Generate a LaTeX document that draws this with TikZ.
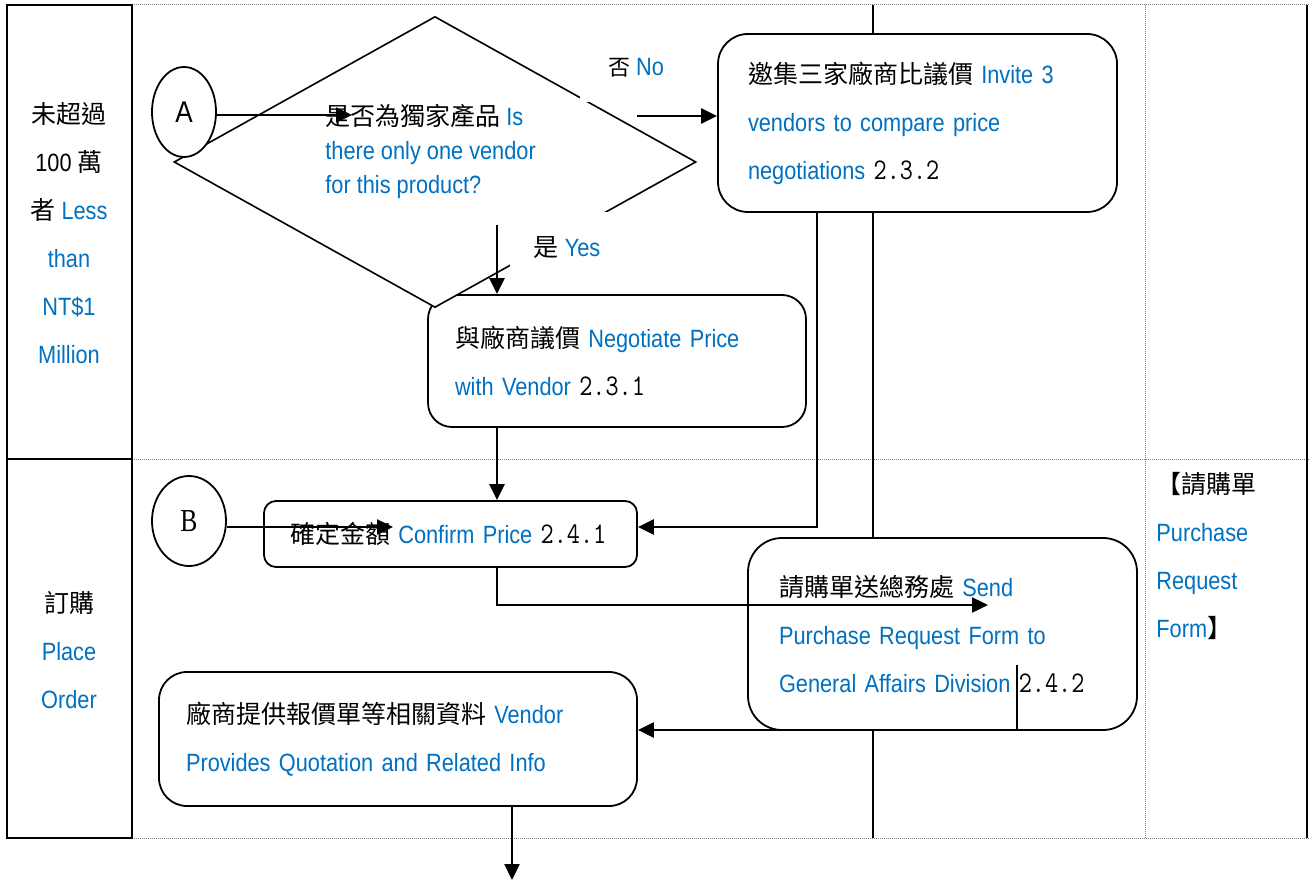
\documentclass[tikz,border=0pt]{standalone}
\usepackage{fontspec}
\setmainfont{Liberation Sans}[FakeStretch=0.87]
\newfontfamily\cjkfont{Noto Sans CJK TC}
\newfontfamily\serifB{Liberation Serif}[FakeStretch=0.8]
\newfontfamily\numfont{Latin Modern Mono}[FakeStretch=0.85]
\usetikzlibrary{shapes.geometric,arrows.meta}
\definecolor{engblue}{HTML}{0070C0}
\newcommand{\zhtxt}[1]{{\cjkfont #1}}
\newcommand{\entxt}[1]{{\color{engblue}#1}}
\newcommand{\numtxt}[1]{{\numfont\fontsize{15}{24}\selectfont #1}}
\tikzset{
  lane/.style={line width=1.2pt},
  laneDot/.style={gray, line width=0.5pt, dash pattern=on 0.5pt off 0.5pt},
  procbox/.style={draw, line width=0.9pt, fill=white, rounded corners=14pt, align=left, inner ysep=0pt, font=\fontsize{12.5}{24}\selectfont},
  flow/.style={line width=1.2pt, -{Triangle[length=8pt,width=7.5pt]}},
  connector/.style={draw, line width=0.9pt, fill=white, ellipse, inner sep=0pt},
  lbl/.style={fill=white, inner sep=0pt, font=\fontsize{12.5}{15}\selectfont},
}
\begin{document}
\begin{tikzpicture}[x=0.5pt, y=-0.5pt]
  \useasboundingbox (0,0) rectangle (1309,881);
  % swimlanes
  \draw[laneDot] (132,5) -- (1309,5);
  \draw[laneDot] (132,459) -- (1309,459);
  \draw[laneDot] (132,838) -- (1309,838);
  \draw[laneDot] (1145,5) -- (1145,838);
  \draw[line width=0.7pt] (873,5) -- (873,838);
  \draw[lane] (7,5) rectangle (132,838);
  \draw[lane] (7,459) -- (132,459);
  \draw[lane] (1307,5) -- (1307,838);
  \node[align=center, font=\fontsize{12.5}{24}\selectfont] (lane1) at (69,233)
    {\zhtxt{未超過}\\100 \zhtxt{萬}\\\zhtxt{者} \entxt{Less}\\\entxt{than}\\\entxt{NT\$1}\\\entxt{Million}};
  \node[align=center, font=\fontsize{12.5}{24}\selectfont] (lane2) at (69,650)
    {\zhtxt{訂購}\\\entxt{Place}\\\entxt{Order}};
  \node[anchor=west, align=left, inner sep=0pt, font=\fontsize{12.5}{24}\selectfont] (formlbl) at (1156,556)
    {\zhtxt{【請購單}\\\entxt{Purchase}\\\entxt{Request}\\\entxt{Form}\zhtxt{】}};

  % process boxes
  \node[procbox, text width=162pt, inner xsep=13.5pt, minimum height=66pt, rounded corners=12pt] (neg) at (617,361)
    {\zhtxt{與廠商議價} \entxt{Negotiate Price}\\\entxt{with Vendor} \numtxt{2.3.1}};
  \node[procbox, text width=169.5pt, inner xsep=15pt, minimum height=89pt, rounded corners=15pt] (inv) at (917.5,123)
    {\zhtxt{邀集三家廠商比議價} \entxt{Invite 3}\\\entxt{vendors to compare price}\\\entxt{negotiations} \numtxt{2.3.2}};
  \node[procbox, text width=160.5pt, inner xsep=13pt, minimum height=33pt, rounded corners=6pt] (conf) at (450.5,534)
    {\zhtxt{確定金額} \entxt{Confirm Price} \numtxt{2.4.1}};
  \node[procbox, text width=163.5pt, inner xsep=15.5pt, minimum height=96pt, rounded corners=17pt] (send) at (942.5,634)
    {\zhtxt{請購單送總務處} \entxt{Send}\\\entxt{Purchase Request Form to}\\\entxt{General Affairs Division} \numtxt{2.4.2}};
  \node[procbox, text width=212pt, inner xsep=13.5pt, minimum height=67pt, rounded corners=14pt] (vend) at (398,739)
    {\zhtxt{廠商提供報價單等相關資料} \entxt{Vendor}\\\entxt{Provides Quotation and Related Info}};

  % decision
  \node[draw, diamond, line width=0.8pt, fill=white, minimum width=261pt, minimum height=145.5pt, inner sep=0pt] (dec) at (435,162) {};
  \node[lbl, minimum width=56pt, minimum height=34pt] (nolbl) at (636,68) {\zhtxt{\fontsize{11}{15}\selectfont 否} \entxt{No}};
  \node[lbl, minimum width=57pt, minimum height=36pt] (yeslbl) at (567,248) {\zhtxt{是} \entxt{Yes}};
  \node[anchor=west, align=left, inner sep=0pt, font=\fontsize{12.5}{17}\selectfont] (qtext) at (325,151)
    {\zhtxt{是否為獨家產品} \entxt{Is}\\\entxt{there only one vendor}\\\entxt{for this product?}};

  % connectors
  \node[connector, minimum width=32pt, minimum height=45pt, font=\fontsize{15}{17}\selectfont] (A) at (184,112) {A};
  \node[connector, minimum width=37pt, minimum height=45pt, font=\serifB\fontsize{16}{18}\selectfont] (B) at (189,521) {B};

  % arrows
  \coordinate (qin) at (352,115);
  \coordinate (noS) at (637,116);
  \coordinate (yesS) at (497,225);
  \coordinate (spine) at (497,0);
  \coordinate (invdrop) at (817,527);
  \coordinate (bin) at (393,527);
  \coordinate (sendin) at (988,605);
  \coordinate (tick) at (1017,665);
  \coordinate (sendout) at (1077,730);
  \coordinate (exit) at (512,880);
  \draw[flow] (qin -| A.east) -- (qin);
  \draw[flow] (noS) -- (noS -| inv.west);
  \draw[flow] (yesS) -- (yesS |- neg.north);
  \draw[flow] (spine |- neg.south) -- (spine |- conf.north);
  \draw[flow] (invdrop |- inv.south) -- (invdrop) -- (invdrop -| conf.east);
  \draw[flow] (bin -| B.east) -- (bin);
  \draw[flow] (spine |- conf.south) |- (sendin);
  \draw[line width=0.7pt] (tick) -- (tick |- sendout);
  \draw[flow] (sendout) -- (sendout -| vend.east);
  \draw[flow] (exit |- vend.south) -- (exit);
\end{tikzpicture}
\end{document}
